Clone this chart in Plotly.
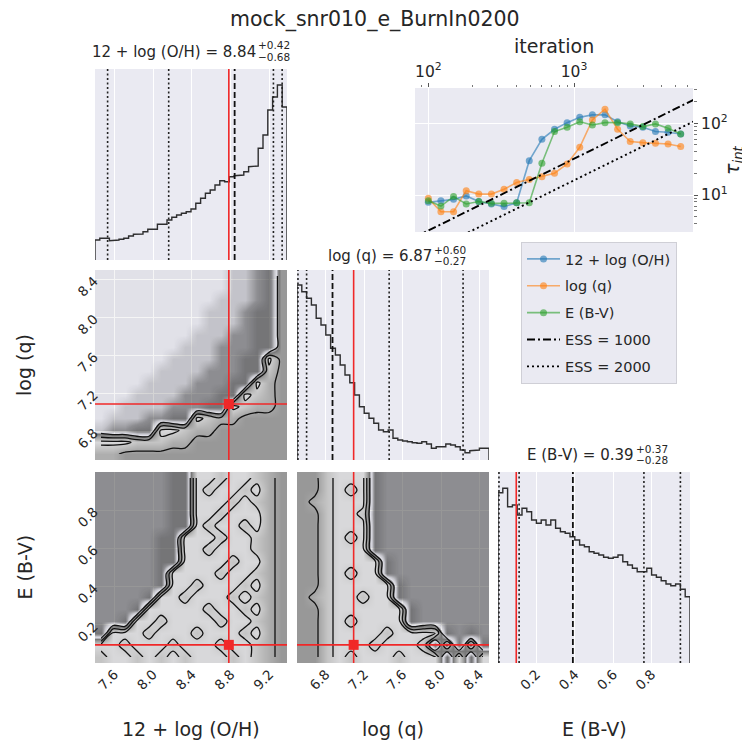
import numpy as np
import plotly.graph_objects as go

# page body adds an 8px margin; the figure is sized/offset to compensate
OFF = 8
W, H = 750 - OFF, 746 - OFF
FONT = "DejaVu Sans"
TXT = "#262626"
BG = "#EAEAF2"
RED = "rgb(240,40,40)"

# ---------------- data ----------------
title_text = "mock_snr010_e_BurnIn0200"
param_labels = ["12 + log (O/H)", "log (q)", "E (B-V)"]
range_oh = [7.40, 9.38]
range_q = [6.50, 8.50]
range_e = [0.00, 1.00]
ticks_oh = [7.6, 8.0, 8.4, 8.8, 9.2]
ticks_q = [6.8, 7.2, 7.6, 8.0, 8.4]
ticks_e = [0.2, 0.4, 0.6, 0.8]
truth_oh, truth_q, truth_e = 8.78, 7.09, 0.095
median_vals = [8.84, 6.87, 0.39]
err_plus = ["+0.42", "+0.60", "+0.37"]
err_minus = ["\u22120.68", "\u22120.27", "\u22120.28"]
dotted_oh = [7.53, 8.16, 9.24, 9.33]
dotted_q = [6.51, 6.60, 7.46, 8.23]
dotted_e = [0.005, 0.11, 0.76, 0.95]

hist_oh = [20.0, 21.7, 21.7, 19.3, 20.0, 20.7, 21.7, 24.0, 25.7, 26.0, 28.3, 30.7, 30.7, 35.7,
           35.7, 40.0, 42.7, 45.0, 46.7, 48.3, 51.0, 56.7, 61.7, 66.7, 70.0, 75.0, 79.3, 78.3,
           83.3, 84.3, 85.0, 88.3, 93.3, 94.0, 111.7, 125.0, 150.0, 163.0, 175.0, 153.0]
hist_q = [175.0, 168.3, 161.7, 155.0, 141.7, 135.0, 125.0, 111.7, 105.0, 95.0, 85.0, 77.3, 65.0,
          53.3, 46.7, 41.7, 36.7, 30.0, 28.3, 30.0, 21.7, 20.0, 19.0, 18.3, 17.3, 16.7, 18.3,
          16.0, 11.7, 13.3, 13.3, 16.0, 15.0, 13.3, 10.0, 7.3, 9.3, 10.0, 11.7, 11.7]
hist_e = [170.3, 174.7, 156.3, 158.0, 148.0, 154.7, 151.3, 143.0, 139.7, 143.0, 138.0, 143.0,
          134.7, 131.3, 129.7, 126.3, 123.0, 118.0, 116.3, 111.3, 109.7, 108.0, 105.7, 104.7,
          105.7, 108.0, 101.3, 98.0, 94.7, 91.3, 91.3, 94.7, 88.0, 85.7, 82.3, 79.0, 77.3, 79.0,
          73.7, 66.3]

# 2D density maps (rows from top to bottom). 0-4: inside contours (light->grey),
# 5-9: scattered-sample region (sparse->dense)
dens_oh_q = [
    "5555555555566783",
    "5555555555566783",
    "5555555555666783",
    "5555555556667883",
    "5555555556667883",
    "5555555566677883",
    "5555555666777883",
    "5555556666778803",
    "5555566667778813",
    "5555666677788023",
    "5556666777880123",
    "5566667778801223",
    "5666778801223333",
    "6778800122333333",
    "0001112233333333",
    "2233333333333333",
]
dens_oh_e = [
    "7777778800100123",
    "7777778801001023",
    "7777778800010123",
    "7777778800100023",
    "7777778801001023",
    "7777788000100123",
    "7777788001000123",
    "7777788000010023",
    "7777780000100123",
    "7777780010001023",
    "7777800100010123",
    "7778000001001023",
    "7780010000100123",
    "8000100010001023",
    "0010001000100123",
    "1001010100010123",
]
dens_q_e = [
    "3310008777777777",
    "3310108777777777",
    "3210008777777777",
    "3310018777777777",
    "3310008777777777",
    "3310108777777777",
    "3310008777777777",
    "3310000877777777",
    "3310100877777777",
    "3310000087777777",
    "3210010087777777",
    "3310000008777777",
    "3310100008777777",
    "3310000100008787",
    "3310001000180808",
    "3310100010008080",
]

iterations = [100, 122, 149, 182, 222, 271, 331, 404, 493, 602, 735, 897, 1095, 1337,
              1632, 1992, 2432, 2969, 3624, 4424, 5400]
tau_oh = [7.9, 8.3, 8.7, 9.7, 8.1, 7.5, 6.9, 7.8, 30.1, 59.8, 82.4, 102, 121, 131, 131,
          105, 91.8, 88, 76.6, 74.9, 71]
tau_q = [8.98, 5.85, 5.85, 11.5, 10.3, 10.3, 12.0, 14.9, 16.5, 18.0, 20.1, 27.1, 46.3, 111,
         157, 82.5, 55.5, 53.7, 52.6, 51.5, 47.3]
tau_e = [8.3, 7.0, 9.5, 7.5, 8.1, 7.65, 7.65, 7.8, 7.8, 27.7, 76.6, 88, 105, 94.8, 102,
         102, 98, 89.8, 98, 85.1, 71]
ess_levels = [1000, 2000]
n_walkers = 32
ess_iter_span = [80, 7000]
iter_range = [81, 6560]
tau_range = [3.05, 310]

# ---------------- layout geometry (screen px) ----------------
COLS = [(95, 287), (297, 489), (498, 690)]
ROWS = [(69, 260), (270, 460), (472, 663)]


def px(x):
    return (x - OFF) / W


def py(y):
    return 1 - (y - OFF) / H


def xdom(c):
    return [px(c[0]), px(c[1])]


def ydom(r):
    return [py(r[1]), py(r[0])]


fig = go.Figure()

panels = {
    1: (0, 0),  # hist O/H
    2: (0, 1),  # O/H vs q
    3: (1, 1),  # hist q
    4: (0, 2),  # O/H vs E
    5: (1, 2),  # q vs E
    6: (2, 2),  # hist E
}
xr = {1: range_oh, 2: range_oh, 3: range_q, 4: range_oh, 5: range_q, 6: range_e}
xt = {1: ticks_oh, 2: ticks_oh, 3: ticks_q, 4: ticks_oh, 5: ticks_q, 6: ticks_e}
hist_panels = {1: (hist_oh, range_oh), 3: (hist_q, range_q), 6: (hist_e, range_e)}
yr2d = {2: (range_q, ticks_q), 4: (range_e, ticks_e), 5: (range_e, ticks_e)}
show_x = {4, 5, 6}
show_y = {2, 4}

tickfont = dict(family=FONT, size=13.5, color=TXT)
lay = {}
for k, (c, r) in panels.items():
    xa = dict(domain=xdom(COLS[c]), range=xr[k], anchor=f"y{k}", tickvals=xt[k],
              ticktext=[f"{v:.1f}" for v in xt[k]], showgrid=True, gridcolor="white",
              gridwidth=1, zeroline=False, showline=False, ticks="", automargin=False,
              showticklabels=k in show_x, tickangle=-45, tickfont=tickfont)
    if k in hist_panels:
        ph = ROWS[r][1] - ROWS[r][0]
        ya = dict(domain=ydom(ROWS[r]), range=[0, ph], anchor=f"x{k}", showgrid=False,
                  zeroline=False, showticklabels=False, ticks="", automargin=False)
    else:
        yrng, ytk = yr2d[k]
        ya = dict(domain=ydom(ROWS[r]), range=yrng, anchor=f"x{k}", tickvals=ytk,
                  ticktext=[f"{v:.1f}" for v in ytk], showgrid=True, gridcolor="white",
                  gridwidth=1, zeroline=False, ticks="", showticklabels=k in show_y,
                  tickangle=-45, tickfont=tickfont, automargin=False)
    lay["xaxis" if k == 1 else f"xaxis{k}"] = xa
    lay["yaxis" if k == 1 else f"yaxis{k}"] = ya

shapes = []
# ---- histograms ----
for k, (counts, rng) in hist_panels.items():
    n = len(counts)
    edges = np.linspace(rng[0], rng[1], n + 1)
    xs, ys = [rng[0]], [0]
    for i, cnt in enumerate(counts):
        xs += [edges[i], edges[i + 1]]
        ys += [cnt, cnt]
    xs.append(rng[1])
    ys.append(0)
    fig.add_trace(go.Scatter(x=xs, y=ys, mode="lines", xaxis=f"x{k}", yaxis=f"y{k}",
                             line=dict(color="rgba(25,25,25,0.9)", width=1.4),
                             showlegend=False, hoverinfo="skip"))

hist_lines = {1: (dotted_oh, median_vals[0], truth_oh), 3: (dotted_q, median_vals[1], truth_q),
              6: (dotted_e, median_vals[2], truth_e)}
for k, (dots, med, tru) in hist_lines.items():
    ax = "" if k == 1 else str(k)
    for v in dots:
        shapes.append(dict(type="line", xref=f"x{ax}", yref=f"y{ax} domain", x0=v, x1=v,
                           y0=0, y1=1, line=dict(color="#222", width=1.6, dash="2px,2.5px")))
    shapes.append(dict(type="line", xref=f"x{ax}", yref=f"y{ax} domain", x0=med, x1=med,
                       y0=0, y1=1, line=dict(color="#111", width=1.8, dash="6px,3px")))
    shapes.append(dict(type="line", xref=f"x{ax}", yref=f"y{ax} domain", x0=tru, x1=tru,
                       y0=0, y1=1, line=dict(color=RED, width=1.6)))

# ---- 2D panels ----
cscale = [[0 / 9, "rgb(216,216,218)"], [1 / 9, "rgb(196,196,196)"], [2 / 9, "rgb(174,174,174)"],
          [3 / 9, "rgb(152,152,152)"], [4 / 9, "rgb(120,120,120)"],
          [5 / 9, "rgba(60,60,60,0.05)"], [6 / 9, "rgba(60,60,60,0.22)"],
          [7 / 9, "rgba(55,55,55,0.52)"], [8 / 9, "rgba(50,50,50,0.64)"],
          [1.0, "rgba(40,40,40,0.78)"]]
maps = {2: (dens_oh_q, range_oh, range_q, truth_oh, truth_q),
        4: (dens_oh_e, range_oh, range_e, truth_oh, truth_e),
        5: (dens_q_e, range_q, range_e, truth_q, truth_e)}
for k, (rows, rx, ry, tx, ty) in maps.items():
    z = np.array([[int(ch) for ch in row] for row in rows[::-1]], dtype=float)
    ny, nx = z.shape
    xc = rx[0] + (np.arange(nx) + 0.5) * (rx[1] - rx[0]) / nx
    yc = ry[0] + (np.arange(ny) + 0.5) * (ry[1] - ry[0]) / ny
    fig.add_trace(go.Heatmap(x=xc, y=yc, z=z, zmin=0, zmax=9, colorscale=cscale,
                             showscale=False, zsmooth="best", xaxis=f"x{k}", yaxis=f"y{k}",
                             hoverinfo="skip", showlegend=False))
    fig.add_trace(go.Contour(x=xc, y=yc, z=z, showscale=False, xaxis=f"x{k}", yaxis=f"y{k}",
                             contours=dict(coloring="none", start=0.5, end=4.5, size=2),
                             line=dict(color="#111", width=1.3, smoothing=1.0),
                             hoverinfo="skip", showlegend=False))
    shapes.append(dict(type="line", xref=f"x{k}", yref=f"y{k} domain", x0=tx, x1=tx, y0=0,
                       y1=1, line=dict(color=RED, width=1.6), layer="above"))
    shapes.append(dict(type="line", xref=f"x{k} domain", yref=f"y{k}", x0=0, x1=1, y0=ty,
                       y1=ty, line=dict(color=RED, width=1.6), layer="above"))
    fig.add_trace(go.Scatter(x=[tx], y=[ty], mode="markers", xaxis=f"x{k}", yaxis=f"y{k}",
                             marker=dict(symbol="square", size=10, color=RED),
                             showlegend=False, hoverinfo="skip"))

# ---- autocorrelation time panel ----
colors = ["rgba(31,119,180,0.6)", "rgba(255,127,14,0.6)", "rgba(44,160,44,0.6)"]
for name, tau, col in zip(param_labels, [tau_oh, tau_q, tau_e], colors):
    fig.add_trace(go.Scatter(x=iterations, y=tau, mode="lines+markers", name=name,
                             xaxis="x7", yaxis="y7", legendgroup=name,
                             line=dict(color=col, width=1.6),
                             marker=dict(color=col, size=7)))
for ess, dash in zip(ess_levels, ["8px,3px,2px,3px", "2px,3px"]):
    fig.add_trace(go.Scatter(x=ess_iter_span, y=[n * n_walkers / ess for n in ess_iter_span],
                             mode="lines", name=f"ESS = {ess}", xaxis="x7", yaxis="y7",
                             legendgroup=f"ess{ess}",
                             line=dict(color="black", width=1.9, dash=dash)))

minor_x = [m * 10 ** d for d in range(1, 4) for m in range(2, 10)]
minor_y = [m * 10 ** d for d in range(0, 3) for m in range(2, 10)]
lay["xaxis7"] = dict(domain=xdom((415, 693)), type="log", anchor="y7", side="top",
                     range=[np.log10(iter_range[0]), np.log10(iter_range[1])],
                     tickvals=[100, 1000], ticktext=["10<sup>2</sup>", "10<sup>3</sup>"],
                     showgrid=True, gridcolor="white", zeroline=False, ticks="outside",
                     ticklen=4, tickcolor="#555", automargin=False,
                     tickfont=dict(family=FONT, size=15.5, color=TXT),
                     minor=dict(tickvals=minor_x, ticks="outside", ticklen=2.5,
                                tickcolor="#777", showgrid=False))
lay["yaxis7"] = dict(domain=ydom((88, 232)), type="log", anchor="x7", side="right",
                     range=[np.log10(tau_range[0]), np.log10(tau_range[1])],
                     tickvals=[10, 100], ticktext=["10<sup>1</sup>", "10<sup>2</sup>"],
                     showgrid=True, gridcolor="white", zeroline=False, ticks="outside",
                     ticklen=4, tickcolor="#555", automargin=False,
                     tickfont=dict(family=FONT, size=15.5, color=TXT),
                     minor=dict(tickvals=minor_y, ticks="outside", ticklen=2.5,
                                tickcolor="#777", showgrid=False))

# ---- annotations ----
ann = []


def add_text(text, x, y, size, xanchor="center", yanchor="middle", angle=0):
    ann.append(dict(text=text, x=px(x), y=py(y), xref="paper", yref="paper",
                    xanchor=xanchor, yanchor=yanchor, showarrow=False, textangle=angle,
                    borderpad=0, font=dict(family=FONT, size=size, color=TXT)))


add_text(title_text, 375, 19.5, 20.5)
title_pos = [(257, 51.5), (433, 256), (635, 455)]
for (xr_, yc), lab, med, ep, em in zip(title_pos, param_labels, median_vals, err_plus, err_minus):
    add_text(f"{lab} = {med:.2f}", xr_, yc, 15, xanchor="right")
    add_text(ep, xr_, yc - 6, 10.5, xanchor="left")
    add_text(em, xr_, yc + 5, 10.5, xanchor="left")
for c, lab in zip(COLS, param_labels):
    add_text(lab, (c[0] + c[1]) / 2, 729, 19)
for r, lab in zip(ROWS[1:], param_labels[1:]):
    add_text(lab, 24, (r[0] + r[1]) / 2, 19, angle=-90)
add_text("iteration", 554, 46, 19)
add_text("<i>\u03c4<sub>int</sub></i>", 733, 160, 19, angle=-90)

fig.update_layout(
    width=W, height=H, margin=dict(l=0, r=0, t=0, b=0, autoexpand=False),
    paper_bgcolor="white", plot_bgcolor=BG,
    font=dict(family=FONT, color=TXT),
    shapes=shapes, annotations=ann,
    legend=dict(x=px(521), y=py(242), xanchor="left", yanchor="top", bgcolor=BG,
                bordercolor="#cfcfd6", borderwidth=1, tracegroupgap=5, itemwidth=33,
                font=dict(family=FONT, size=14.5, color=TXT)),
    **lay,
)
fig.write_html("out.html")
